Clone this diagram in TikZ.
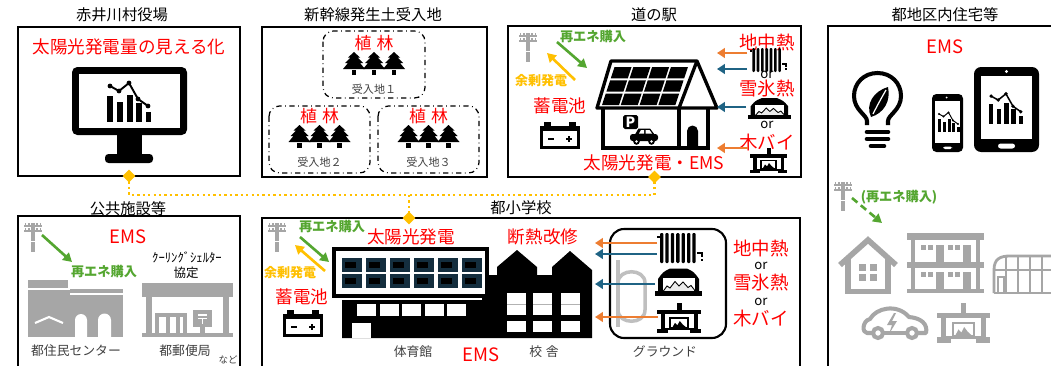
\documentclass[tikz,border=0pt]{standalone}
\usepackage{fontspec}
\setmainfont{Noto Sans CJK JP}
\usetikzlibrary{arrows.meta, calc, positioning, shapes.geometric}

\definecolor{enegreen}{RGB}{84,166,48}
\definecolor{surplus}{RGB}{255,192,0}
\definecolor{heatorange}{RGB}{237,125,49}
\definecolor{heatblue}{RGB}{31,99,132}
\definecolor{icongray}{RGB}{166,166,166}
\definecolor{panelnavy}{RGB}{20,46,62}
\definecolor{labelgray}{RGB}{64,64,64}

% icons, drawn in pixel units (y pointing down)
\newcommand{\iconPole}[2]{%
  \begin{scope}[shift={({#1},{#2})}, icongray]
    \fill (7,1) rectangle (11,30);
    \fill (0,3) rectangle (18,5.2);
    \fill (0,8) rectangle (18,10.2);
    \foreach \q in {1.5,5,13,16.5} {\fill (\q-0.7,1) rectangle (\q+0.7,3); \fill (\q-0.7,6) rectangle (\q+0.7,8);}
    \fill[white] (7,19) rectangle (11,20.2);
  \end{scope}}
\newcommand{\iconBattery}[2]{%
  \begin{scope}[shift={({#1},{#2})}]
    \fill (4,0) rectangle (11,4);
    \fill (29,0) rectangle (36,4);
    \fill (0,4) rectangle (40,8.5);
    \draw[line width=1.5pt] (1.3,8) -- (1.3,25.7) -- (38.7,25.7) -- (38.7,8);
    \fill (8,15.5) rectangle (14,18);
    \fill (26,15.5) rectangle (32,18);
    \fill (27.75,13.7) rectangle (30.25,19.8);
  \end{scope}}
\newcommand{\iconStove}[4]{%
  \begin{scope}[shift={({#1},{#2})}, #3, #4]
    \fill (16.5,0) rectangle (20.5,6.5);
    \fill (0,6) rectangle (37,9.5);
    \fill (3,9) rectangle (6.5,22);
    \fill (30.5,9) rectangle (34,22);
    \fill (0,21.5) rectangle (9.5,25);
    \fill (27.5,21.5) rectangle (37,25);
    \fill (6,20.5) rectangle (31,22.5);
    \draw[line width=0.9pt] (11,12.5) rectangle (26,20.5);
    \fill (13,20) -- (15,16.5) -- (17,18.5) -- (19,15) -- (21.5,18) -- (24,20) -- cycle;
  \end{scope}}
\newcommand{\iconRadiator}[3]{%
  \begin{scope}[shift={({#1},{#2})}, #3]
    \foreach \k in {0,...,6} \fill[rounded corners=0.6pt] (3+\k*5.4,0) rectangle (6.3+\k*5.4,30);
    \fill (0,3) rectangle (3,5);
    \fill (40,19) rectangle (46,21);
    \fill (43.5,21) rectangle (46,23.5);
    \fill (43.5,25.5) rectangle (46,28);
  \end{scope}}
\newcommand{\iconSnowhut}[3]{%
  \begin{scope}[shift={({#1},{#2})}, #3]
    \fill (3,26) -- (3,12) .. controls (8,5) .. (15,1.5) -- (32,1.5) .. controls (39,5) .. (44,12) -- (44,26) -- cycle;
    \fill[white] (7.5,11) rectangle (39.5,24.5);
    \draw[line width=0.5pt, fill=black!8] (8,24.5) -- (12,19) -- (15,21) -- (20,14.5) -- (24,19) -- (28,15) -- (33,20.5) -- (36,18.5) -- (39.5,23) -- (39.5,24.5) -- cycle;
    \fill (0,24) rectangle (47,29);
  \end{scope}}
\newcommand{\iconPine}[2]{%
  \begin{scope}[shift={({#1},{#2})}]
    \fill (0,0) -- (6,5.5) -- (3.5,5.5) -- (9,11) -- (6,11) -- (11,17) -- (-11,17) -- (-6,11) -- (-9,11) -- (-3.5,5.5) -- (-6,5.5) -- cycle;
    \fill (-2.2,17.5) rectangle (2.2,23);
  \end{scope}}
\newcommand{\iconChart}[3]{%
  \begin{scope}[shift={({#1},{#2})}, scale=#3]
    \foreach \a/\b/\h in {1/7/14, 11/17/20, 21/27/13, 30/36/21, 40/45/30} \fill (\a,\h) rectangle (\b,40);
    \draw[line width=#3*1.1pt] (4,4) -- (13,9) -- (23,1) -- (32,17) -- (42,24);
    \foreach \p in {(4,4),(13,9),(23,1),(32,17),(42,24)} \fill \p circle (2.4);
  \end{scope}}

\begin{document}
\begin{tikzpicture}[x=0.02cm, y=-0.02cm,
    frame/.style={draw, line width=1.2pt, inner sep=0pt, outer sep=0pt},
    site/.style={draw, dash dot, line width=0.7pt, rounded corners=6pt},
    title/.style={font=\fontsize{8.7}{10}\selectfont},
    headline/.style={text=red, font=\fontsize{10}{12}\selectfont},
    source/.style={text=red, font=\fontsize{10.5}{12}\selectfont},
    plant/.style={text=red, font=\fontsize{9.6}{11}\selectfont},
    buy/.style={text=enegreen, font=\bfseries\fontsize{7.5}{9}\selectfont},
    sell/.style={text=surplus, font=\bfseries\fontsize{7.4}{9}\selectfont},
    ortext/.style={font=\fontsize{7.5}{8}\selectfont},
    caption/.style={text=labelgray, font=\fontsize{7.3}{9}\selectfont},
    sitelabel/.style={text=labelgray, font=\fontsize{6.3}{8}\selectfont},
    link/.style={draw=surplus, line width=1.3pt, dash pattern=on 1.3pt off 1.8pt},
    joint/.style={diamond, fill=surplus, inner sep=0pt, minimum size=7.5pt},
    buyarrow/.style={-{Triangle[length=5pt,width=5.5pt]}, line width=1.5pt, enegreen},
    sellarrow/.style={-{Triangle[length=5pt,width=5.5pt]}, line width=1.5pt, surplus},
    heatO/.style={-{Triangle[length=4.5pt,width=5.5pt]}, line width=1.6pt, heatorange},
    heatB/.style={-{Triangle[length=4.5pt,width=5.5pt]}, line width=1.6pt, heatblue}
]
\useasboundingbox (0,0) rectangle (1051,365);
\clip (0,0) rectangle (1051,365);
\fill[white] (0,0) rectangle (1051,365);

% frames
\node[frame, minimum width=4.44cm, minimum height=2.98cm] (yakuba) at (129,101.5) {};
\node[frame, minimum width=4.5cm, minimum height=3cm] (dosha) at (374.5,102) {};
\node[frame, minimum width=5.86cm, minimum height=3.02cm] (eki) at (654.5,101.5) {};
\node[frame, minimum width=4.64cm, minimum height=7.08cm] (jutaku) at (944,203) {};
\node[frame, minimum width=4.44cm, minimum height=3.28cm] (shisetsu) at (129,298) {};
\node[frame, minimum width=10.76cm, minimum height=3.24cm] (gakko) at (531,299) {};

\node[title] (tYakuba) at (122,15) {赤井川村役場};
\node[title] (tDosha) at (373,15) {新幹線発生土受入地};
\node[title] (tEki) at (654,15) {道の駅};
\node[title] (tJutaku) at (945,15) {都地区内住宅等};
\node[title] (tShisetsu) at (128,209) {公共施設等};
\node[title] (tGakko) at (521,208) {都小学校};

% network
\coordinate (hub) at (409,195);
\draw[link] (yakuba.south) |- (hub) -| (eki.south);
\draw[link] (hub) -- (hub |- gakko.north);
\node[joint] (j1) at (yakuba.south) {};
\node[joint] (j2) at (eki.south) {};
\node[joint] (j3) at (hub |- gakko.north) {};

% village office
\node[headline] (mieruka) at (129,47) {太陽光発電量の見える化};
\fill[rounded corners=3pt] (72,67) rectangle (187,135);
\fill[white] (79,74) rectangle (180,128);
\fill (117,134) rectangle (142,155);
\fill[rounded corners=2pt] (105,154) rectangle (153,163);
\iconChart{106}{82}{1}

% soil sites
\draw[site] (323,31) rectangle (425,98);
\draw[site] (269,106) rectangle (370,173);
\draw[site] (378,106) rectangle (479,173);
\foreach \cx/\ty/\n/\lab in {374/52/1/１, 319.5/125/2/２, 428.5/125/3/３} {
  \node[plant] (plant\n) at (\cx,\ty-8.5) {植\hspace{0.3em}林};
  \foreach \dx in {-20,0,20} \iconPine{\cx+\dx}{\ty};
  \node[sitelabel] (site\n) at (\cx,\ty+37) {受入地\lab};
}

% road station
\iconPole{519}{32}
\draw[buyarrow] (557,42) -- (587,68);
\draw[sellarrow] (575,80) -- (547,53);
\node[buy] (buyEki) at (593,37) {再エネ購入};
\node[sell] (sellEki) at (541,81) {余剰発電};
\node[headline] (batEki) at (560,106) {蓄電池};
\iconBattery{540}{122}
\begin{scope}[shift={(602,105)}, xslant=0.33]
  \foreach \c in {0,...,3} \foreach \r in {0,1,2} \fill (\c*18.8,-\r*13.3) rectangle ++(17,-11.3);
\end{scope}
\draw[line width=1.9pt, line join=round] (597,108) -- (611,61) -- (697,61) -- (717,108) -- cycle;
\draw[line width=1.9pt] (697,61) -- (679,108);
\draw[line width=1.9pt] (603,108) -- (603,148) -- (708,148) -- (708,108);
\draw[line width=1.9pt] (679,108) -- (679,148);
\fill[rounded corners=1pt] (623,115) rectangle (638,129);
\node[text=white, font=\bfseries\fontsize{8}{8}\selectfont] (psign) at (630.5,122) {P};
\fill[rounded corners=1.5pt] (630,134) rectangle (658,141);
\fill (635,134.5) -- (638.5,128.5) -- (650,128.5) -- (654.5,134.5) -- cycle;
\fill[white] (639,133.5) -- (641,130) -- (644,130) -- (644,133.5) -- cycle;
\fill[white] (645.5,133.5) -- (645.5,130) -- (649.5,130) -- (652,133.5) -- cycle;
\foreach \wx in {636.5,651.5} {\fill (\wx,141.5) circle (3.3); \fill[white] (\wx,141.5) circle (1.3);}
\fill (687,148) -- (687,131) arc[start angle=180, end angle=360, radius=5.5] -- (698,148) -- cycle;
\node[headline] (emsEki) at (654,163) {太陽光発電・EMS};
\node[source] (geoEki) at (767,42) {地中熱};
\node[ortext] (or1) at (767,75) {or};
\node[source] (snowEki) at (767,89) {雪氷熱};
\node[ortext] (or2) at (767,125) {or};
\node[source] (bioEki) at (767,142) {木バイ};
\iconRadiator{750}{48}{scale=0.8}
\iconSnowhut{748}{97}{xscale=0.91, yscale=0.76}
\iconStove{750}{148}{scale=1}{black}
\draw[heatO] (747,53) -- (717,53);
\draw[heatB] (747,69) -- (717,69);
\draw[heatB] (746,107) -- (717,107);
\draw[heatO] (748,148) -- (717,148);

% houses
\node[source] (emsJutaku) at (945,47) {EMS};
\draw[line width=2.3pt] (867,125) -- (867,121) .. controls (867,115) and (854,110) .. (854,96) .. controls (854,83) and (864,73) .. (877.5,73) .. controls (891,73) and (901,83) .. (901,96) .. controls (901,110) and (888,115) .. (888,121) -- (888,125);
\draw[line width=2.6pt, line cap=round] (867,132) -- (888,132);
\draw[line width=2.6pt, line cap=round] (867,139) -- (888,139);
\draw[line width=2.6pt, line cap=round] (871,146) -- (884,146);
\fill (871,117) .. controls (865,104) and (874,91) .. (888,87) .. controls (891,101) and (884,113) .. (871,117) -- cycle;
\draw[white, line width=0.7pt] (873,114) .. controls (878,104) and (882,97) .. (886,90);
\fill[rounded corners=2.5pt] (932,94) rectangle (963,152);
\fill[white] (935,101) rectangle (960,143);
\fill[white] (946.5,97.5) circle (1);
\fill[white, rounded corners=1pt] (943,146.5) rectangle (952,149);
\iconChart{937}{112}{0.5}
\fill[rounded corners=4pt] (974,67) rectangle (1039,152);
\fill[white] (981,76) rectangle (1032,139);
\fill[white] (1006.5,71.5) circle (1.6);
\fill[white, rounded corners=1.5pt] (998,143.5) rectangle (1015,148.5);
\iconChart{988}{93}{0.78}

\iconPole{834}{181}
\draw[buyarrow, dash pattern=on 4pt off 2.5pt] (852,198) -- (882,223);
\node[buy] (buyJutaku) at (899,197) {(再エネ購入)};
\begin{scope}[icongray]
  \draw[line width=3.2pt] (840,265) -- (868,240) -- (896,265);
  \draw[line width=3.2pt] (848,259) -- (848,291.5) -- (888,291.5) -- (888,259);
  \foreach \wx/\wy in {859/264, 870/264, 859/274, 870/274} \fill (\wx,\wy) rectangle ++(7,7);
  \fill (907,233) rectangle (984,240);
  \fill (907,262) rectangle (984,268);
  \fill (907,289) rectangle (984,293);
  \fill (911,240) rectangle (915,293);
  \fill (976,240) rectangle (980,293);
  \foreach \fy in {245,272} {
    \foreach \wx in {921,928,948,955} \fill (\wx,\fy) rectangle ++(5,5);
    \foreach \wx in {936,963} \fill (\wx,\fy) rectangle ++(8,17);
  }
  \draw[line width=1.6pt] (994,293) -- (994,270) .. controls (994,259) and (1000,256) .. (1010,256) -- (1060,256);
  \draw[line width=1.6pt] (994,293) -- (1060,293);
  \draw[line width=1.2pt] (994,270) -- (1060,270);
  \foreach \gx in {1006,1018,1030,1042} \draw[line width=1.2pt] (\gx,257) -- (\gx,293);
  \draw[line width=1.2pt] (998,293) -- (998,277) -- (1004,277) -- (1004,293);
  \draw[line width=2.3pt, line join=round] (872,333) -- (867,333) .. controls (862,333) and (862,321) .. (870,319) .. controls (876,308) and (897,303) .. (909,317) .. controls (921,318) and (928,324) .. (926,333) -- (918,333);
  \draw[line width=2.3pt] (884,333) -- (906,333);
  \draw[line width=2.3pt] (878,333) circle (5);
  \draw[line width=2.3pt] (912,333) circle (5);
  \fill (894,313) -- (887,325) -- (892,325) -- (889,334) -- (897,321) -- (892,321) -- (896,313) -- cycle;
\end{scope}
\iconStove{937}{303}{xscale=1.43, yscale=1.6}{icongray}

% public facilities
\iconPole{24}{222}
\draw[buyarrow] (42,235) -- (72,262);
\node[source] (emsShisetsu) at (128,237) {EMS};
\node[buy] (buyShisetsu) at (104,272) {再エネ購入};
\node[font=\fontsize{7.2}{8}\selectfont] (cool) at (187,257) {ｸｰﾘﾝｸﾞｼｪﾙﾀｰ};
\node[font=\fontsize{7.1}{8}\selectfont] (kyotei) at (186,273) {協定};
\begin{scope}[icongray]
  \fill (28,280) rectangle (68,287.5);
  \fill (28,290) rectangle (70,337);
  \fill (70,288.5) rectangle (123,293);
  \fill (70,295) rectangle (123,337);
  \draw[white, line width=1.2pt] (35,323) -- (49,317) -- (63,323);
  \fill[white] (75,337) -- (75,320) arc[start angle=180, end angle=360, radius=6] -- (87,337) -- cycle;
  \fill[white] (98,337) -- (98,320) arc[start angle=180, end angle=360, radius=6.5] -- (111,337) -- cycle;
  \fill (142,283) rectangle (233,297);
  \fill (146,297) rectangle (152,333);
  \fill (223,297) rectangle (229,333);
  \fill (142,333) rectangle (233,337);
  \fill (155,313) rectangle (187,317);
  \foreach \vx in {155,166,176,183} \fill (\vx,317) rectangle ++(4,18);
  \fill (193,310) rectangle (212,327);
  \fill (200,327) rectangle (205,335);
  \draw[white, line width=0.8pt] (198,315) -- (207,315) (198,318.5) -- (207,318.5) (202.5,318.5) -- (202.5,324);
\end{scope}
\node[caption] (center) at (76,351) {都住民センター};
\node[caption] (post) at (185,351) {都郵便局};
\node[caption, font=\fontsize{5.4}{6}\selectfont] (etc) at (228,360) {など};

% school
\iconPole{268}{222}
\draw[buyarrow] (300,237) -- (329,262);
\draw[sellarrow] (325,271) -- (295,245);
\node[buy] (buyGakko) at (332,227) {再エネ購入};
\node[sell] (sellGakko) at (290,273) {余剰発電};
\node[headline] (pvGakko) at (411,237) {太陽光発電};
\node[headline] (batGakko) at (302,297) {蓄電池};
\node[headline] (insul) at (543,237) {断熱改修};
\iconBattery{283}{310}
\fill (342,300) -- (482,300) -- (482,275) -- (497,275) -- (497,267) -- (517,250) -- (537,267) -- (537,275) -- (552,275) -- (552,267) -- (570,251) -- (592,270) -- (592,338) -- (342,338) -- cycle;
\draw[line width=1.8pt, fill=white] (334,249) rectangle (487,296);
\foreach \c in {0,...,5} \foreach \r in {0,1} {
  \fill[panelnavy] (342+24*\c,258+16*\r) rectangle ++(20,14);
  \fill (345+24*\c,262+16*\r) rectangle ++(11,6);
}
\foreach \i in {0,...,4} \fill[white] (357+22.5*\i,304) rectangle ++(19,12);
\fill[white] (352,323) rectangle (371,338);
\foreach \wx in {507,533,561} {
  \fill[white] (\wx,293) rectangle ++(19,22);
  \draw[black!30, line width=0.4pt] (\wx,304) -- ++(19,0);
  \fill[white] (\wx,321) rectangle ++(19,11);
}
\node[caption] (gym) at (413,352) {体育館};
\node[source] (emsGakko) at (481,355) {EMS};
\node[caption] (kosha) at (544,352) {校\hspace{0.3em}舎};
\draw[line width=1.2pt, rounded corners=8pt] (610,229) rectangle (726,338);
\draw[black!25, line width=2pt] (618,260) -- (618,327);
\draw[black!25, line width=2pt] (618,283) .. controls (618,268) and (645,268) .. (645,283) -- (645,310) .. controls (645,325) and (618,325) .. (618,310);
\iconRadiator{657}{233}{scale=1}
\iconSnowhut{655}{267}{scale=1}
\iconStove{657}{303}{scale=1.2}{black}
\draw[heatO] (657,243) -- (595,243);
\draw[heatB] (657,254) -- (595,254);
\draw[heatB] (655,284) -- (595,284);
\draw[heatO] (658,317) -- (595,317);
\node[caption] (ground) at (665,352) {グラウンド};
\node[source] (geoGakko) at (761,248) {地中熱};
\node[ortext] (or3) at (761,266) {or};
\node[source] (snowGakko) at (761,283) {雪氷熱};
\node[ortext] (or4) at (761,302) {or};
\node[source] (bioGakko) at (761,318) {木バイ};
\end{tikzpicture}
\end{document}
